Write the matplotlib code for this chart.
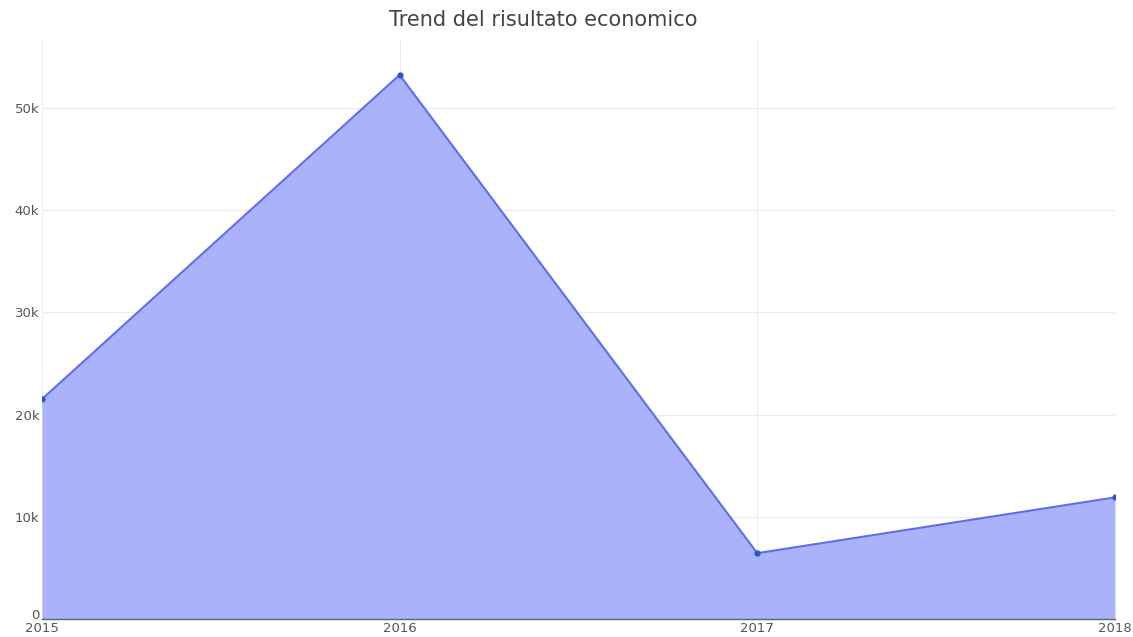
import matplotlib
matplotlib.use("Agg")
import matplotlib.pyplot as plt
from matplotlib.ticker import FuncFormatter

# data
years = [2015, 2016, 2017, 2018]
risultato = [21500, 53200, 6450, 11900]
year_labels = ['2015', '2016', '2017', '2018']

plt.rcParams['font.family'] = ['DejaVu Sans']

fig = plt.figure(figsize=(11.33, 6.37), dpi=100)
ax = fig.add_axes([0.037, 0.028, 0.947, 0.909])

ax.fill_between(years, risultato, 0, color='#aab3fa', linewidth=0, zorder=2)
ax.plot(years, risultato, color='#5f6cec', linewidth=1.5, marker='o', markersize=3.5,
        markerfacecolor='#2d55c8', markeredgecolor='#2d55c8', zorder=3)

ax.set_xlim(2015, 2018)
ax.set_ylim(0, 56600)
ax.set_xticks(years)
ax.set_xticklabels(year_labels)
ax.set_yticks([0, 10000, 20000, 30000, 40000, 50000])
ax.yaxis.set_major_formatter(FuncFormatter(lambda v, p: '0' if v == 0 else '%dk' % (v / 1000)))

ax.grid(True, color='#ececec', linewidth=0.8, zorder=0)
ax.set_axisbelow(True)
for s in ['top', 'right', 'left']:
    ax.spines[s].set_visible(False)
ax.spines['bottom'].set_color('#5a6478')
ax.spines['bottom'].set_linewidth(1.0)
ax.spines['bottom'].set_zorder(4)
ax.tick_params(axis='both', length=0, labelsize=9.5, labelcolor='#555555')
ax.tick_params(axis='x', pad=2)
ax.tick_params(axis='y', pad=2)
# the "0" sits on the axis line, just above the 2015 label
ax.get_yticklabels()[0].set_va('baseline')

fig.text(0.4795, 0.968, 'Trend del risultato economico', ha='center', va='center',
         fontsize=15, color='#444444')

fig.savefig('out.png', dpi=100)
